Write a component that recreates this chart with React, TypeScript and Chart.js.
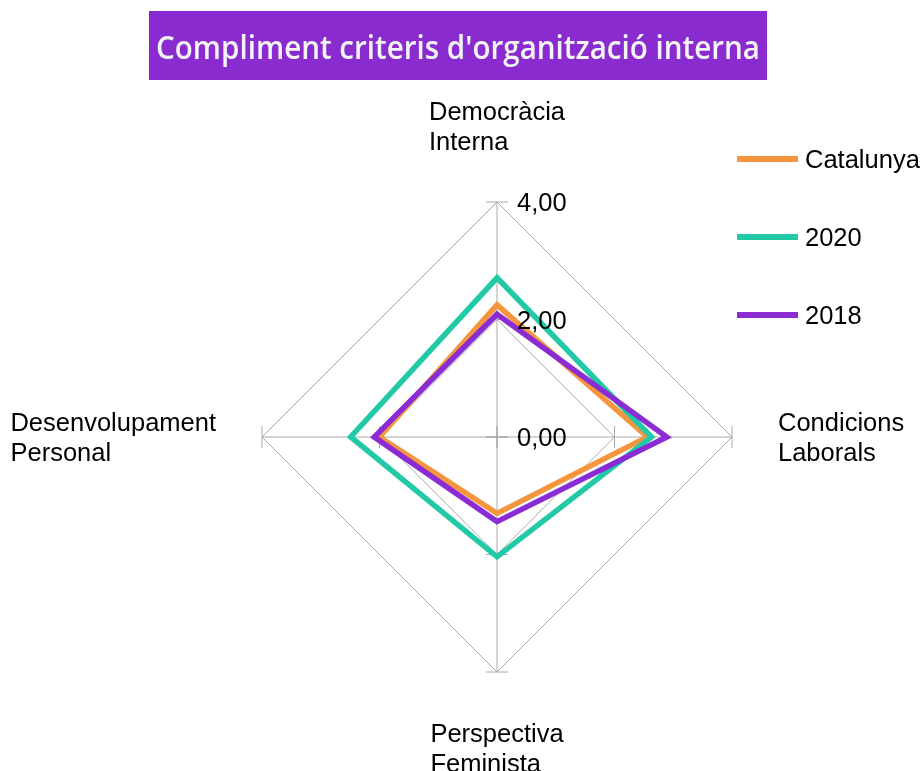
import React, { useEffect, useRef } from "react";
import { Chart, registerables } from "chart.js";

Chart.register(...registerables);

const TITLE = "Compliment criteris d'organització interna";
const CATEGORIES: string[][] = [
  ["Democràcia", "Interna"],
  ["Condicions", "Laborals"],
  ["Perspectiva", "Feminista"],
  ["Desenvolupament", "Personal"],
];
const SERIES_NAMES = ["Catalunya", "2020", "2018"];
const CATALUNYA = [2.25, 2.56, 1.3, 2.0];
const Y2020 = [2.71, 2.63, 2.04, 2.49];
const Y2018 = [2.09, 2.89, 1.44, 2.09];
const COLORS = ["#F5963E", "#22C9A6", "#8A2BD3"];
const TICK_VALUES = [0, 2, 4];
const TICK_LABELS = ["0,00", "2,00", "4,00"];

const FONT = '25.5px "Liberation Sans", Arial, sans-serif';
const DY = 2;

const decor = {
  id: "decor",
  beforeDatasetsDraw(chart: any) {
    const s = chart.scales.r;
    const ctx = chart.ctx;
    ctx.save();
    ctx.strokeStyle = "#aaaaaa";
    ctx.lineWidth = 1;
    const n = chart.data.labels.length;
    for (let i = 0; i < n; i++) {
      for (const v of TICK_VALUES) {
        const p = s.getPointPosition(i, s.getDistanceFromCenterForValue(v));
        const px = -Math.sin(p.angle);
        const py = Math.cos(p.angle);
        ctx.beginPath();
        ctx.moveTo(p.x - px * 11, p.y - py * 11);
        ctx.lineTo(p.x + px * 11, p.y + py * 11);
        ctx.stroke();
      }
    }
    ctx.restore();
  },
  afterDraw(chart: any) {
    const s = chart.scales.r;
    const ctx = chart.ctx;
    ctx.save();
    // tick labels
    ctx.font = FONT;
    ctx.fillStyle = "#000";
    ctx.textAlign = "left";
    ctx.textBaseline = "middle";
    TICK_VALUES.forEach((v, k) => {
      const y = s.yCenter - s.getDistanceFromCenterForValue(v);
      ctx.fillText(TICK_LABELS[k], s.xCenter + 20, y + DY);
    });
    // point labels
    const lh = 30;
    CATEGORIES.forEach((lines, i) => {
      const p = s.getPointPosition(i, s.drawingArea + 46);
      const c = Math.cos(p.angle);
      const sn = Math.sin(p.angle);
      const w = Math.max(...lines.map((t) => ctx.measureText(t).width));
      const h = lines.length * lh;
      let x: number;
      let y: number;
      if (Math.abs(c) < 0.3) x = p.x - w / 2;
      else if (c > 0) x = p.x;
      else x = p.x - w;
      if (Math.abs(sn) < 0.3) y = p.y - h / 2;
      else if (sn > 0) y = p.y;
      else y = p.y - h;
      lines.forEach((t, k) => ctx.fillText(t, x, y + lh * (k + 0.5) + DY));
    });
    // legend
    chart.data.datasets.forEach((ds: any, k: number) => {
      const y = 159 + k * 78;
      ctx.strokeStyle = ds.borderColor;
      ctx.lineWidth = 6;
      ctx.beginPath();
      ctx.moveTo(737, y);
      ctx.lineTo(798, y);
      ctx.stroke();
      ctx.fillStyle = "#000";
      ctx.fillText(ds.label, 805, y + DY);
    });
    // title
    ctx.fillStyle = "#8A2BD0";
    ctx.fillRect(149, 11, 618, 69);
    ctx.fillStyle = "#f4f4f4";
    ctx.font = '600 32px "Open Sans", sans-serif';
    ctx.textAlign = "center";
    ctx.textBaseline = "alphabetic";
    ctx.fillText(TITLE, 458, 59, 604);
    ctx.restore();
  },
};

export default function App() {
  const ref = useRef<HTMLCanvasElement | null>(null);
  useEffect(() => {
    if (!ref.current) return;
    const series = [CATALUNYA, Y2020, Y2018];
    const chart = new Chart(ref.current, {
      type: "radar",
      data: {
        labels: CATEGORIES.map((l) => l.join(" ")),
        datasets: series.map((d, k) => ({
          label: SERIES_NAMES[k],
          data: d,
          borderColor: COLORS[k],
          backgroundColor: COLORS[k],
          borderWidth: 5.5,
          borderJoinStyle: "miter" as const,
          pointRadius: 0,
          fill: false,
          tension: 0,
          order: series.length - k,
        })),
      },
      options: {
        responsive: false,
        animation: false,
        devicePixelRatio: 1,
        events: [],
        layout: { padding: { left: 262, right: 192, top: 202, bottom: 99 } },
        plugins: {
          legend: { display: false },
          title: { display: false },
          tooltip: { enabled: false },
        },
        scales: {
          r: {
            min: 0,
            max: 4,
            ticks: { display: false, stepSize: 2 },
            grid: { color: "#aaaaaa", lineWidth: 1, circular: false },
            angleLines: { color: "#aaaaaa", lineWidth: 1 },
            pointLabels: { display: false },
          },
        },
      },
      plugins: [decor],
    });
    return () => chart.destroy();
  }, []);
  return (
    <div style={{ position: "absolute", left: 0, top: 0, width: 924, height: 771, background: "#fff" }}>
      <canvas ref={ref} width={924} height={771} style={{ display: "block" }} />
    </div>
  );
}
